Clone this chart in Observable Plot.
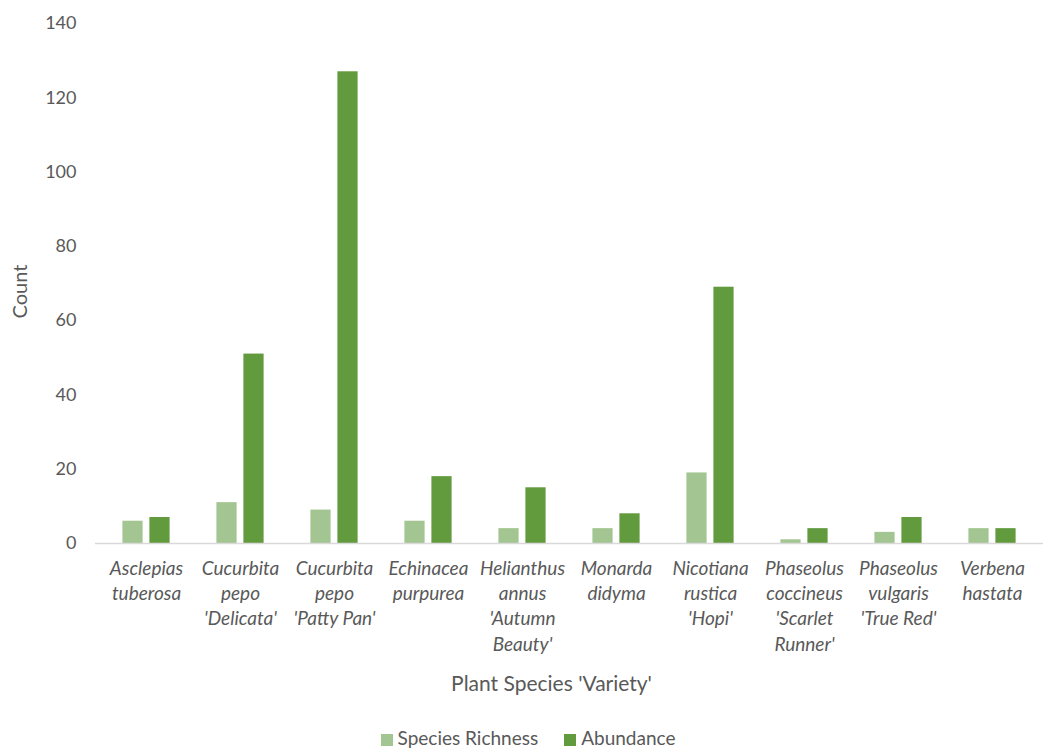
<!DOCTYPE html>
<html>
<head>
<meta charset="utf-8">
<script src="https://cdn.jsdelivr.net/npm/d3@7"></script>
<script src="https://cdn.jsdelivr.net/npm/@observablehq/plot@0.6"></script>
<style>
  body { margin: 0; background: #fff; font-family: Lato, "Open Sans", sans-serif; }
  #legend { display: flex; justify-content: center; gap: 26px; font-size: 19px; color: #595959; padding-top: 11px; padding-left: 6px; }
  #legend span.sw { display: inline-block; width: 12px; height: 12px; margin-right: 5px; vertical-align: -1px; }
</style>
</head>
<body>
<div id="chart"></div>
<div id="legend"></div>
<script>
const plants = [
  "Asclepias\ntuberosa",
  "Cucurbita\npepo\n'Delicata'",
  "Cucurbita\npepo\n'Patty Pan'",
  "Echinacea\npurpurea",
  "Helianthus\nannus\n'Autumn\nBeauty'",
  "Monarda\ndidyma",
  "Nicotiana\nrustica\n'Hopi'",
  "Phaseolus\ncoccineus\n'Scarlet\nRunner'",
  "Phaseolus\nvulgaris\n'True Red'",
  "Verbena\nhastata"
];
const seriesNames = ["Species Richness", "Abundance"];
const richness = [6, 11, 9, 6, 4, 4, 19, 1, 3, 4];
const abundance = [7, 51, 127, 18, 15, 8, 69, 4, 7, 4];
const colors = ["#a3c591", "#629a3e"];
const yTicks = [0, 20, 40, 60, 80, 100, 120, 140];

const richData = plants.map((p, i) => ({plant: p, series: seriesNames[0], value: richness[i]}));
const abunData = plants.map((p, i) => ({plant: p, series: seriesNames[1], value: abundance[i]}));

// band step ≈ 94.8px; bars 21px wide, 6px apart, centred in the band
const chart = Plot.plot({
  width: 1050,
  height: 715,
  marginTop: 23,
  marginBottom: 172,
  marginLeft: 95,
  marginRight: 7,
  style: {fontFamily: "Lato, 'Open Sans', sans-serif", fontSize: "18px", color: "#595959", background: "#fff"},
  x: {domain: plants, padding: 0},
  y: {domain: [0, 140], ticks: yTicks},
  color: {domain: seriesNames, range: colors},
  marks: [
    Plot.axisY({ticks: yTicks, tickSize: 0, tickPadding: 19, fontSize: 18, label: null}),
    Plot.axisX({tickSize: 0, tickPadding: 14, fontSize: 19, fontStyle: "italic", lineHeight: 1.32, label: null}),
    Plot.text(["Count"], {frameAnchor: "left", textAnchor: "middle", dx: -75, dy: 8, rotate: -90, fontSize: 20, fill: "#595959"}),
    Plot.text(["Plant Species 'Variety'"], {frameAnchor: "bottom", dx: -18, dy: 147, fontSize: 21, fill: "#595959"}),
    Plot.barY(richData, {x: "plant", y: "value", fill: "series", insetLeft: 23.4, insetRight: 50.4}),
    Plot.barY(abunData, {x: "plant", y: "value", fill: "series", insetLeft: 50.4, insetRight: 23.4}),
    Plot.ruleY([0], {stroke: "#d9d9d9", strokeWidth: 1.5})
  ]
});
document.getElementById("chart").appendChild(chart);

const legend = document.getElementById("legend");
seriesNames.forEach((s, i) => {
  const item = document.createElement("div");
  item.innerHTML = `<span class="sw" style="background:${colors[i]}"></span>${s}`;
  legend.appendChild(item);
});
</script>
</body>
</html>
